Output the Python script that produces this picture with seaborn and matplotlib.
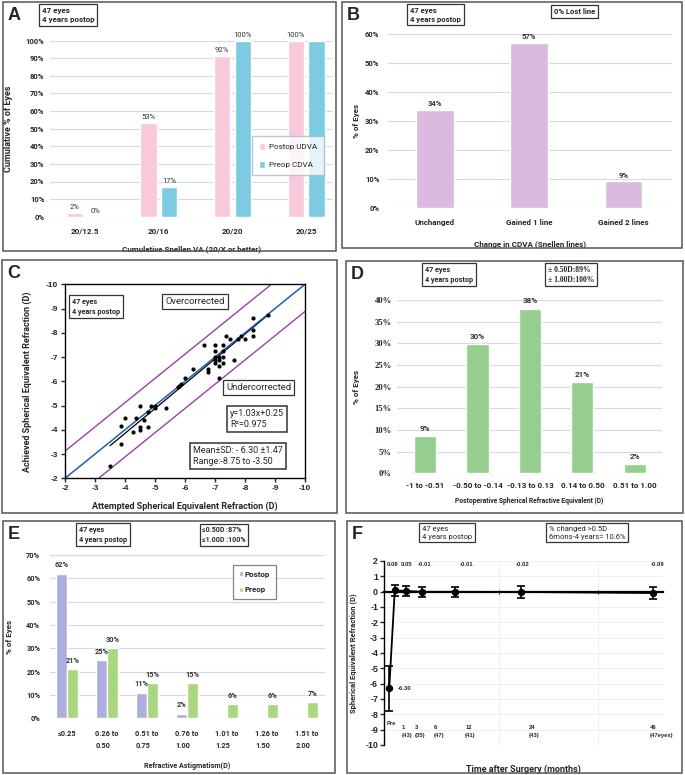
import numpy as np
import pandas as pd
import matplotlib
matplotlib.use("Agg")
import matplotlib.pyplot as plt
import seaborn as sns
from matplotlib.patches import Rectangle

sns.set_style("white")
plt.rcParams["font.family"] = ["Roboto", "DejaVu Sans"]

# ---------------- data ----------------
a_cats = ["20/12.5", "20/16", "20/20", "20/25"]
a_postop_udva = [2.1, 53.2, 91.5, 100.0]
a_preop_cdva = [0.0, 17.0, 100.0, 100.0]
a_postop_labels = ["2%", "53%", "92%", "100%"]
a_preop_labels = ["0%", "17%", "100%", ""]

b_cats = ["Unchanged", "Gained 1 line", "Gained 2 lines"]
b_vals = [34.0, 57.0, 9.3]
b_labels = ["34%", "57%", "9%"]

c_attempted = [-3.50, -3.88, -3.88, -4.00, -4.25, -4.38, -4.50, -4.50, -4.50, -4.62,
               -4.75, -4.75, -4.88, -5.00, -5.00, -5.38, -5.75, -5.88, -6.00, -6.25,
               -6.62, -6.75, -6.75, -7.00, -7.00, -7.00, -7.00, -7.00, -7.12, -7.12,
               -7.12, -7.12, -7.25, -7.25, -7.25, -7.25, -7.38, -7.50, -7.62, -7.75,
               -7.88, -8.00, -8.25, -8.25, -8.25, -8.75, -5.80]
c_achieved = [-2.50, -3.40, -4.15, -4.50, -3.90, -4.50, -5.00, -4.12, -4.00, -4.40,
              -4.12, -4.75, -5.00, -4.88, -5.00, -4.90, -5.75, -5.88, -6.12, -6.50,
              -7.50, -6.50, -6.38, -7.50, -7.25, -7.00, -6.88, -6.75, -7.00, -6.88,
              -6.62, -6.12, -7.00, -7.25, -7.50, -6.75, -7.88, -7.75, -6.88, -7.75,
              -7.88, -7.75, -8.62, -8.12, -7.88, -8.75, -5.80]
c_ref = np.array([-2.0, -10.0])
c_band = 1.12

d_cats = ["-1 to -0.51", "-0.50 to -0.14", "-0.13 to 0.13", "0.14 to 0.50", "0.51 to 1.00"]
d_vals = [8.5, 29.8, 38.0, 21.0, 2.1]
d_labels = ["9%", "30%", "38%", "21%", "2%"]

e_cats = ["≤0.25", "0.26 to\n0.50", "0.51 to\n0.75", "0.76 to\n1.00", "1.01 to\n1.25",
          "1.26 to\n1.50", "1.51 to\n2.00"]
e_postop = [62, 25, 11, 2, 0, 0, 0]
e_preop = [21, 30, 15, 15, 6, 6, 7]

f_months = [0, 1, 3, 6, 12, 24, 48]
f_mean = [-6.30, 0.08, 0.05, -0.01, -0.01, -0.02, -0.09]
f_sd = [1.47, 0.33, 0.30, 0.33, 0.32, 0.37, 0.37]
f_tick_text = ["1\n(43)", "3\n(35)", "6\n(47)", "12\n(41)", "24\n(43)", "46\n(47eyes)"]

# ---------------- colours ----------------
PINK = "#F8C9DB"
SKY = "#7BCBE2"
LILAC = "#DABADF"
GREEN = "#95CE8F"
PERI = "#ADADDF"
LGREEN = "#ABD680"
GRID = "#D9D9D9"
SANS = ["Liberation Sans", "DejaVu Sans"]
SERIF = ["Liberation Serif", "DejaVu Serif"]

W, H = 685, 775
fig = plt.figure(figsize=(W / 100, H / 100), dpi=100)
fig.patch.set_facecolor("white")


def add_ax(l, t, r, b):
    return fig.add_axes([l / W, 1 - b / H, (r - l) / W, (b - t) / H])


def ftext(x, y, s, **kw):
    return fig.text(x / W, 1 - y / H, s, **kw)


def boxtext(x, y, s, size=5.8, weight="bold", family=None, lw=0.9):
    kw = dict(ha="left", va="top", fontsize=size, fontweight=weight, linespacing=1.3,
              bbox=dict(boxstyle="square,pad=0.35", fc="white", ec="#333333", lw=lw))
    if family:
        kw["family"] = family
    ftext(x + 3, y + 3, s, **kw)


def panel(l, t, r, b, letter):
    fig.add_artist(Rectangle((l / W, 1 - b / H), (r - l) / W, (b - t) / H,
                             transform=fig.transFigure, fill=False, ec="#555555", lw=1.1))
    ftext(l + 5, t + 5, letter, ha="left", va="top", fontsize=13, fontweight="bold",
          family=SANS)


def pct_axis(ax, top, step, size=5.5, family=None):
    vals = list(range(0, top + 1, step))
    ax.set_ylim(0, top)
    ax.set_yticks(vals)
    ax.set_yticklabels([f"{v}%" for v in vals])
    for t in ax.get_yticklabels():
        if family:
            t.set_family(family)
        t.set_fontweight("bold")
        t.set_fontsize(size)
    ax.grid(axis="y", color=GRID, lw=0.8)
    ax.grid(axis="x", visible=False)
    ax.set_axisbelow(True)
    sns.despine(ax=ax, left=True, bottom=True)


# ---------------- panel borders ----------------
panel(3, 2, 336, 251, "A")
panel(342, 2, 682, 248, "B")
panel(2, 260, 337, 513, "C")
panel(346, 261, 683, 513, "D")
panel(3, 521, 335, 773, "E")
panel(347, 521, 682, 773, "F")

# ---------------- A ----------------
axA = add_ax(50, 40.7, 333, 216.7)
dfA = pd.DataFrame({"va": a_cats * 2,
                    "pct": a_postop_udva + a_preop_cdva,
                    "group": ["Postop UDVA"] * 4 + ["Preop CDVA"] * 4})
sns.barplot(data=dfA, x="va", y="pct", hue="group", palette=[PINK, SKY], width=0.56,
            gap=0.21, saturation=1, ax=axA)
axA.set_xlim(-0.475, 3.365)
pct_axis(axA, 100, 10)
axA.tick_params(axis="y", length=0, pad=4)
axA.tick_params(axis="x", length=0, pad=8, labelsize=5.8)
for t in axA.get_xticklabels():
    t.set_fontweight("bold")
for cont, labs in zip(axA.containers, [a_postop_labels, a_preop_labels]):
    axA.bar_label(cont, labels=labs, padding=2, fontsize=5.5, color="#333333")
axA.set_xlabel("Cumulative Snellen VA (20/X or better)", fontsize=5.8, fontweight="bold")
axA.set_ylabel("Cumulative % of Eyes", fontsize=6.5, fontweight="bold")
axA.xaxis.set_label_coords(0.5, -0.161)
axA.yaxis.set_label_coords(-0.131, 0.5)
legA = axA.legend(loc="upper left", bbox_to_anchor=(0.714, 0.458), borderaxespad=0,
                  fontsize=5.8, handlelength=0.7, handleheight=0.9, borderpad=0.9,
                  labelspacing=1.3, handletextpad=0.5, fancybox=False, frameon=True,
                  edgecolor="#A7B8CC")
legA.get_frame().set_linewidth(1.0)
boxtext(39, 4, "47 eyes\n4 years postop", size=5.8)

# ---------------- B ----------------
axB = add_ax(387.7, 34.3, 671.7, 208.3)
sns.barplot(x=b_cats, y=b_vals, color=LILAC, width=0.4, saturation=1, ax=axB)
axB.set_xlim(-0.5, 2.51)
pct_axis(axB, 60, 10)
axB.tick_params(axis="y", length=0, pad=6)
axB.tick_params(axis="x", length=0, pad=8, labelsize=5.8)
for t in axB.get_xticklabels():
    t.set_fontweight("bold")
axB.bar_label(axB.containers[0], labels=b_labels, padding=2, fontsize=5.5,
              fontweight="bold", color="#333333")
axB.set_xlabel("Change in CDVA (Snellen lines)", fontsize=5.8, fontweight="bold")
axB.set_ylabel("% of Eyes", fontsize=5.8, fontweight="bold")
axB.xaxis.set_label_coords(0.5, -0.182)
axB.yaxis.set_label_coords(-0.0975, 0.5)
boxtext(407, 4, "47 eyes\n4 years postop", size=5.5)
boxtext(551, 5, "0% Lost line", size=5.5)

# ---------------- C ----------------
axC = add_ax(65, 284.3, 305, 478.3)
sns.lineplot(x=c_ref, y=c_ref - c_band, color="#9B3FA8", lw=1.0, ax=axC)
sns.lineplot(x=c_ref, y=c_ref + c_band, color="#9B3FA8", lw=1.0, ax=axC)
sns.regplot(x=c_attempted, y=c_achieved, scatter=False, ci=None, color="black",
            line_kws=dict(lw=0.9), ax=axC)
sns.lineplot(x=c_ref, y=c_ref, color="#1F5FB4", lw=1.1, ax=axC)
sns.scatterplot(x=c_attempted, y=c_achieved, color="black", s=9, linewidth=0, ax=axC,
                zorder=5)
axC.set_xlim(-2, -10)
axC.set_ylim(-2, -10)
ticksC = list(range(-2, -11, -1))
axC.set_xticks(ticksC)
axC.set_yticks(ticksC)
axC.set_xticklabels([str(v) for v in ticksC])
axC.set_yticklabels([str(v) for v in ticksC])
for t in axC.get_xticklabels() + axC.get_yticklabels():
    t.set_family(SANS)
    t.set_fontweight("bold")
    t.set_fontsize(6)
axC.tick_params(direction="out", length=3, width=1, pad=2, left=True, bottom=True)
for s in axC.spines.values():
    s.set_visible(True)
    s.set_color("black")
    s.set_linewidth(1.0)
axC.set_xlabel("Attempted Spherical Equivalent Refraction (D)", fontsize=6.5,
               fontweight="bold")
axC.set_ylabel("Achieved Spherical Equivalent Refraction (D)", fontsize=6.5,
               fontweight="bold")
axC.xaxis.set_label_coords(0.5, -0.122)
axC.yaxis.set_label_coords(-0.1375, 0.5)
boxtext(69, 295, "47 eyes\n4 years postop", size=5.2)
boxtext(162, 294, "Overcorrected", size=6.8, weight="normal")
boxtext(223, 380, "Undercorrected", size=6.8, weight="normal")
boxtext(227, 406, "y=1.03x+0.25\nR²=0.975", size=6.5, weight="normal", lw=1.1)
boxtext(190, 443, "Mean±SD: - 6.30 ±1.47\nRange:-8.75 to -3.50", size=6.5,
        weight="normal", lw=1.1)

# ---------------- D ----------------
axD = add_ax(396.7, 300, 661.7, 473.3)
sns.barplot(x=d_cats, y=d_vals, color=GREEN, width=0.42, saturation=1, ax=axD)
axD.set_xlim(-0.54, 4.51)
pct_axis(axD, 40, 5, size=6.2, family=SERIF)
axD.tick_params(axis="y", length=0, pad=3.5)
axD.tick_params(axis="x", length=0, pad=6.5, labelsize=5.8)
for t in axD.get_xticklabels():
    t.set_fontweight("bold")
axD.bar_label(axD.containers[0], labels=d_labels, padding=3, fontsize=5.8,
              fontweight="bold", color="#333333")
axD.set_xlabel("Postoperative Spherical Refractive Equivalent (D)", fontsize=4.9,
               fontweight="bold")
axD.set_ylabel("% of Eyes", fontsize=5.8, fontweight="bold")
axD.xaxis.set_label_coords(0.5, -0.135)
axD.yaxis.set_label_coords(-0.1385, 0.5)
boxtext(422, 263, "47 eyes\n4 years postop", size=5.2)
boxtext(545, 263, "± 0.50D:89%\n± 1.00D:100%", size=5.5, family=SERIF)

# ---------------- E ----------------
axE = add_ax(50, 555, 325, 718.3)
dfE = pd.DataFrame({"ast": e_cats * 2,
                    "pct": e_postop + e_preop,
                    "group": ["Postop"] * 7 + ["Preop"] * 7})
sns.barplot(data=dfE, x="ast", y="pct", hue="group", palette=[PERI, LGREEN], width=0.56,
            gap=0.0, saturation=1, ax=axE)
axE.set_xlim(-0.43, 6.45)
pct_axis(axE, 70, 10, size=5.3)
axE.tick_params(axis="y", length=0, pad=7)
axE.tick_params(axis="x", length=0, pad=8.5, labelsize=5.3)
for t in axE.get_xticklabels():
    t.set_fontweight("bold")
    t.set_multialignment("left")
    t.set_linespacing(1.6)
for cont, vals in zip(axE.containers, [e_postop, e_preop]):
    axE.bar_label(cont, labels=[f"{v}%" if v > 0 else "" for v in vals], padding=3,
                  fontsize=5.3, fontweight="bold", color="#333333")
axE.set_xlabel("Refractive Astigmatism(D)", fontsize=5.1, fontweight="bold")
axE.set_ylabel("% of Eyes", fontsize=5.8, fontweight="bold")
axE.xaxis.set_label_coords(0.5, -0.266)
axE.yaxis.set_label_coords(-0.1345, 0.5)
legE = axE.legend(loc="upper left", bbox_to_anchor=(0.665, 0.939), borderaxespad=0,
                  fontsize=5.8, handlelength=0.55, handleheight=0.6, borderpad=0.7,
                  labelspacing=1.1, handletextpad=0.25, fancybox=False, frameon=True,
                  edgecolor="#666666")
for t in legE.get_texts():
    t.set_fontweight("bold")
legE.get_frame().set_linewidth(0.9)
boxtext(76, 523, "47 eyes\n4 years postop", size=5.2)
boxtext(199, 523, "≤0.50D :87%\n≤1.00D :100%", size=5.0)

# ---------------- F ----------------
axF = add_ax(384.3, 561, 662.7, 745)
sns.lineplot(x=f_months, y=f_mean, color="black", lw=1.3, marker="o", markersize=4.5,
             markeredgecolor="black", sort=False, ax=axF, zorder=4)
axF.errorbar(f_months, f_mean, yerr=f_sd, fmt="none", ecolor="black", elinewidth=1.2,
             capsize=2.8, capthick=1.2, zorder=4)
axF.set_xlim(-0.9, 49.7)
axF.set_ylim(-10, 2)
yt = list(range(-10, 3))
axF.set_yticks(yt)
axF.set_yticklabels([str(v) for v in yt])
for t in axF.get_yticklabels():
    t.set_family(SANS)
    t.set_fontweight("bold")
    t.set_fontsize(6.4)
axF.set_xticks([20, 38])
axF.set_xticklabels(["", ""])
axF.tick_params(axis="y", direction="out", length=3, width=1, pad=1.5, left=True)
axF.tick_params(axis="x", direction="inout", length=3, width=0.8, bottom=True)
axF.grid(axis="both", color="#EFEFEF", lw=0.7)
axF.set_axisbelow(True)
for k in ["top", "right"]:
    axF.spines[k].set_visible(False)
axF.spines["left"].set_color("black")
axF.spines["left"].set_linewidth(1.0)
axF.spines["bottom"].set_position(("data", 0))
axF.spines["bottom"].set_color("black")
axF.spines["bottom"].set_linewidth(1.6)
ann_x = [0.6, 3.1, 6.5, 14.0, 24.2, 48.7]
for x, m in zip(ann_x, f_mean[1:]):
    axF.text(x, 1.75, f"{m:.2f}", ha="center", va="center", fontsize=4.2,
             fontweight="bold", family=SANS)
axF.text(1.6, f_mean[0], f"{f_mean[0]:.2f}", ha="left", va="center", fontsize=4.2,
         fontweight="bold", family=SANS)
axF.text(-0.4, -8.6, "Pre", ha="left", va="center", fontsize=4.2, fontweight="bold",
         family=SANS)
lab_x = [2.2, 4.6, 8.1, 13.8, 25.3, 47.3]
for x, s in zip(lab_x, f_tick_text):
    axF.text(x, -8.7, s, ha="left", va="top", fontsize=4.2, fontweight="bold",
             family=SANS, linespacing=1.7)
axF.set_xlabel("Time after Surgery (months)", fontsize=6.5, fontweight="bold")
axF.set_ylabel("Spherical Equivalent Refraction (D)", fontsize=5.5, fontweight="bold")
axF.xaxis.set_label_coords(0.5, -0.109)
axF.yaxis.set_label_coords(-0.099, 0.5)
boxtext(419, 523, "47 eyes\n4 years postop", size=5.5, weight="normal")
boxtext(546, 523, "% changed >0.5D\n6mons-4 years= 10.6%", size=5.5, weight="normal")

fig.savefig("out.png", dpi=100, facecolor="white")
